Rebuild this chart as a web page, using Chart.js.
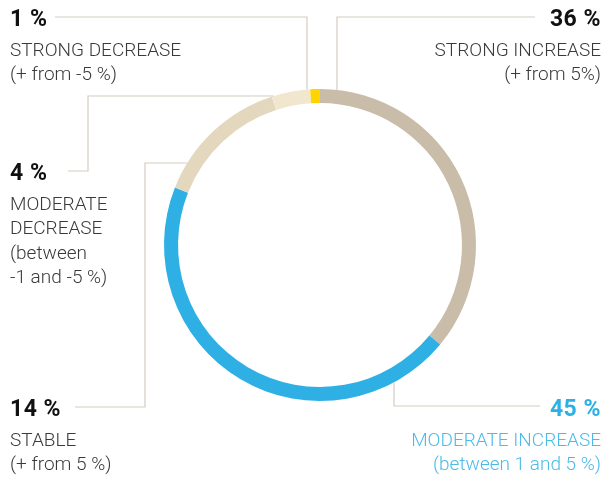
<!DOCTYPE html>
<html><head><meta charset="utf-8">
<script src="https://cdn.jsdelivr.net/npm/chart.js@4/dist/chart.umd.min.js"></script>
<style>html,body{margin:0;padding:0;background:#fff}#wrap{width:606px;height:478px;position:relative}</style>
</head><body><div id="wrap"><canvas id="c" width="606" height="478"></canvas></div>
<script>
const categories = ["STRONG INCREASE", "MODERATE INCREASE", "STABLE", "MODERATE DECREASE", "STRONG DECREASE"];
const values = [36, 45, 14, 4, 1];
const percentLabels = ["36 %", "45 %", "14 %", "4 %", "1 %"];
const descLines = [
  ["STRONG INCREASE", "(+ from 5%)"],
  ["MODERATE INCREASE", "(between 1 and 5 %)"],
  ["STABLE", "(+ from 5 %)"],
  ["MODERATE", "DECREASE", "(between", "-1 and -5 %)"],
  ["STRONG DECREASE", "(+ from -5 %)"]
];
const colors = ["#c9bca9", "#2fb0e5", "#e3d7bd", "#f1e7cf", "#ffd400"];
const textColors = ["#111111", "#2fb0e5", "#111111", "#111111", "#111111"];
const descColors = ["#3a3a3a", "#4cbbe9", "#3a3a3a", "#3a3a3a", "#3a3a3a"];

const FONT = "Roboto, 'Liberation Sans', sans-serif";
const labelPos = [
  {x: 601, y: 26, align: "right"},
  {x: 601, y: 416, align: "right"},
  {x: 10, y: 416, align: "left"},
  {x: 10, y: 180, align: "left"},
  {x: 10, y: 26, align: "left"}
];
const connectors = [
  {pts: [[535, 17], [337, 17]], snap: "vtop"},
  {pts: [[540, 406], [394, 406]], snap: "vbottom"},
  {pts: [[75, 407], [145, 407], [145, 163]], snap: "hleft"},
  {pts: [[68, 171], [88, 171], [88, 96]], snap: "hleft"},
  {pts: [[55, 17], [307, 17]], snap: "vtop"}
];

const annot = {
  id: "annot",
  afterDraw(chart) {
    const ctx = chart.ctx;
    const arc = chart.getDatasetMeta(0).data[0];
    const cx = arc.x, cy = arc.y, R = arc.outerRadius;
    ctx.save();
    ctx.strokeStyle = "#d4ccc0";
    ctx.lineWidth = 1.2;
    connectors.forEach(c => {
      const pts = c.pts.map(p => p.slice());
      const last = pts[pts.length - 1];
      let end;
      if (c.snap === "vtop") end = [last[0], cy - Math.sqrt(R*R - (last[0]-cx)**2)];
      else if (c.snap === "vbottom") end = [last[0], cy + Math.sqrt(R*R - (last[0]-cx)**2)];
      else end = [cx - Math.sqrt(R*R - (last[1]-cy)**2), last[1]];
      pts.push(end);
      ctx.beginPath();
      ctx.moveTo(pts[0][0], pts[0][1]);
      for (let i = 1; i < pts.length; i++) ctx.lineTo(pts[i][0], pts[i][1]);
      ctx.stroke();
    });
    values.forEach((v, i) => {
      const p = labelPos[i];
      ctx.textAlign = p.align;
      ctx.textBaseline = "alphabetic";
      ctx.fillStyle = textColors[i];
      ctx.font = "bold 23px " + FONT;
      ctx.letterSpacing = "0.5px";
      ctx.fillText(percentLabels[i], p.x, p.y);
      ctx.letterSpacing = "0px";
      ctx.fillStyle = descColors[i];
      ctx.font = "300 19px " + FONT;
      descLines[i].forEach((t, j) => ctx.fillText(t, p.x, p.y + 29.5 + j * 24.5));
    });
    ctx.restore();
  }
};

new Chart(document.getElementById("c"), {
  type: "doughnut",
  data: {
    labels: categories,
    datasets: [{ data: values, backgroundColor: colors, borderWidth: 0, hoverOffset: 0 }]
  },
  options: {
    responsive: false,
    animation: false,
    cutout: "91%",
    rotation: 0,
    layout: { padding: { top: 89, bottom: 77, left: 164, right: 130 } },
    plugins: { legend: { display: false }, tooltip: { enabled: false } }
  },
  plugins: [annot]
});
</script></body></html>
